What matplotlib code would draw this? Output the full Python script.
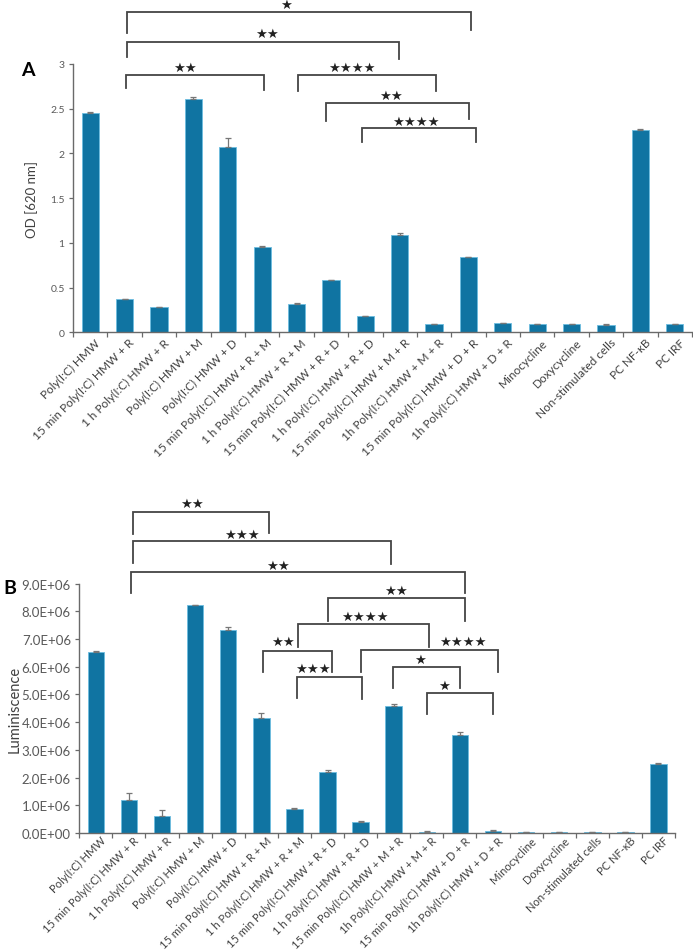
import matplotlib
matplotlib.use("Agg")
import matplotlib.pyplot as plt
import matplotlib.transforms as mtransforms
import numpy as np

plt.rcParams['font.family'] = ['Lato', 'DejaVu Sans']

categories = ["Poly(I:C) HMW", "15 min Poly(I:C) HMW + R", "1 h Poly(I:C) HMW + R",
              "Poly(I:C) HMW + M", "Poly(I:C) HMW + D", "15 min Poly(I:C) HMW + R + M",
              "1 h Poly(I:C) HMW + R + M", "15 min Poly(I:C) HMW + R + D",
              "1 h Poly(I:C) HMW + R + D", "15 min Poly(I:C) HMW + M + R",
              "1h Poly(I:C) HMW + M + R", "15 min Poly(I:C) HMW + D + R",
              "1h Poly(I:C) HMW + D + R", "Minocycline", "Doxycycline",
              "Non-stimulated cells", "PC NF-\u03baB", "PC IRF"]

od_values = [2.45, 0.37, 0.28, 2.61, 2.07, 0.95, 0.32, 0.58, 0.18, 1.09,
             0.09, 0.84, 0.10, 0.09, 0.09, 0.085, 2.26, 0.09]
od_err = [0.01, 0.005, 0.005, 0.02, 0.10, 0.01, 0.005, 0.005, 0.005, 0.015,
          0.005, 0.005, 0.005, 0.003, 0.003, 0.003, 0.01, 0.003]

lum_values = [6.52e6, 1.19e6, 0.62e6, 8.21e6, 7.34e6, 4.15e6, 0.88e6, 2.19e6, 0.41e6,
              4.57e6, 0.05e6, 3.54e6, 0.08e6, 0.02e6, 0.02e6, 0.02e6, 0.02e6, 2.49e6]
lum_err = [0.03e6, 0.27e6, 0.22e6, 0.03e6, 0.09e6, 0.17e6, 0.03e6, 0.09e6, 0.02e6,
           0.10e6, 0.01e6, 0.10e6, 0.02e6, 0.005e6, 0.005e6, 0.005e6, 0.005e6, 0.04e6]

od_ticks = [0, 0.5, 1, 1.5, 2, 2.5, 3]
od_ticklabels = ["0", "0.5", "1", "1.5", "2", "2.5", "3"]
lum_ticks = [i * 1e6 for i in range(10)]
lum_ticklabels = ["{:.1E}".format(v) for v in lum_ticks]

# significance brackets: (x_left, x_right, y_bar, y_leg_left, y_leg_right, label, star_x, star_y)
brackets_a = [
    (1.06, 11.07, 3.576, 3.352, 3.378, "*", 5.71, 3.665),
    (1.06, 8.99, 3.248, 3.073, 3.054, "**", 5.13, 3.34),
    (1.03, 5.05, 2.878, 2.729, 2.713, "**", 2.76, 2.96),
    (6.03, 10.07, 2.878, 2.703, 2.703, "****", 7.60, 2.96),
    (6.85, 11.01, 2.562, 2.367, 2.386, "**", 8.76, 2.65),
    (7.89, 11.21, 2.283, 2.125, 2.125, "****", 9.47, 2.36),
]
brackets_b = [
    (1.11, 5.24, 11.595e6, 10.79e6, 10.83e6, "**", 2.90, 11.90e6),
    (1.11, 8.92, 10.53e6, 9.74e6, 9.71e6, "***", 4.41, 10.77e6),
    (1.06, 11.16, 9.41e6, 8.65e6, 8.65e6, "**", 5.51, 9.67e6),
    (7.02, 11.16, 8.47e6, 7.66e6, 7.66e6, "**", 9.07, 8.74e6),
    (6.12, 10.08, 7.54e6, 6.72e6, 6.72e6, "****", 8.13, 7.82e6),
    (5.04, 7.13, 6.58e6, 5.80e6, 5.80e6, "**", 5.66, 6.90e6),
    (6.07, 8.03, 5.64e6, 4.86e6, 4.84e6, "***", 6.57, 5.94e6),
    (8.01, 12.16, 6.61e6, 5.80e6, 5.80e6, "****", 11.09, 6.90e6),
    (8.99, 11.0, 6.00e6, 5.23e6, 5.23e6, "*", 9.80, 6.25e6),
    (10.0, 12.01, 5.05e6, 4.29e6, 4.29e6, "*", 10.53, 5.34e6),
]

BAR = '#1074a2'
EDGE = '#6cbde0'
AXC = '#6a6a6a'
TXT = '#404040'

W, H = 693, 953
fig = plt.figure(figsize=(W / 100, H / 100), dpi=100)


def px_axes(l, r, t, b):
    return fig.add_axes([l / W, 1 - b / H, (r - l) / W, (b - t) / H])


ax_a = px_axes(73, 692, 65, 333.3)
ax_b = px_axes(79.3, 675, 584.6, 834)


def style(ax, values, errs, ticks, ticklabels, ylim, tick_fs, xl_fs, xl_pad):
    x = np.arange(len(categories))
    ax.bar(x, values, width=0.5, color=BAR, edgecolor=EDGE, linewidth=0.6, zorder=2)
    ax.errorbar(x, values, yerr=[np.zeros(len(errs)), errs], fmt='none',
                ecolor='#777777', elinewidth=0.9, capsize=2.2, capthick=0.9, zorder=3)
    ax.set_xlim(-0.5, len(categories) - 0.5)
    ax.set_ylim(*ylim)
    ax.set_yticks(ticks)
    ax.set_yticklabels(ticklabels, fontsize=tick_fs, color='#595959')
    ax.tick_params(axis='y', direction='out', length=3, width=0.9, color=AXC, pad=3)
    ax.set_xticks(x)
    ax.set_xticks(np.arange(-0.5, len(categories)), minor=True)
    ax.tick_params(axis='x', which='major', length=0, pad=xl_pad)
    ax.tick_params(axis='x', which='minor', direction='out', length=3.5, width=0.9, color=AXC)
    labels = ax.set_xticklabels(categories, rotation=45, ha='right', va='top',
                                rotation_mode='anchor', fontsize=xl_fs, color=TXT)
    off = mtransforms.ScaledTranslation(3 / 72, 0, fig.dpi_scale_trans)
    for lab in labels:
        lab.set_transform(lab.get_transform() + off)
    for s in ['top', 'right']:
        ax.spines[s].set_visible(False)
    for s in ['left', 'bottom']:
        ax.spines[s].set_color(AXC)
        ax.spines[s].set_linewidth(1.0)


def draw_brackets(ax, brackets):
    for x1, x2, y, yl, yr, lab, sx, sy in brackets:
        ax.plot([x1, x1, x2, x2], [yl, y, y, yr], color='#444444', lw=1.3,
                clip_on=False, zorder=4, solid_joinstyle='miter')
        ax.text(sx, sy, "\u2605" * len(lab), ha='center', va='center', fontsize=9.5,
                family='DejaVu Sans', color='#222222', clip_on=False)


style(ax_a, od_values, od_err, od_ticks, od_ticklabels, (0, 3), 7.5, 8.5, 3)
ax_a.set_ylabel("OD [620 nm]", fontsize=9.5, color=TXT)
ax_a.yaxis.set_label_coords((38 - 73) / 619, 0.5)
draw_brackets(ax_a, brackets_a)

style(ax_b, lum_values, lum_err, lum_ticks, lum_ticklabels, (0, 9e6), 9.5, 8, 1)
ax_b.set_ylabel("Luminiscence", fontsize=10.5, color=TXT)
ax_b.yaxis.set_label_coords((22 - 79.3) / 595.7, 0.5)
draw_brackets(ax_b, brackets_b)

fig.text(28 / W, 1 - 70 / H, "A", fontsize=14, fontweight='bold', ha='center', va='center')
fig.text(10 / W, 1 - 588 / H, "B", fontsize=14, fontweight='bold', ha='center', va='center')

fig.savefig("out.png", dpi=100)
